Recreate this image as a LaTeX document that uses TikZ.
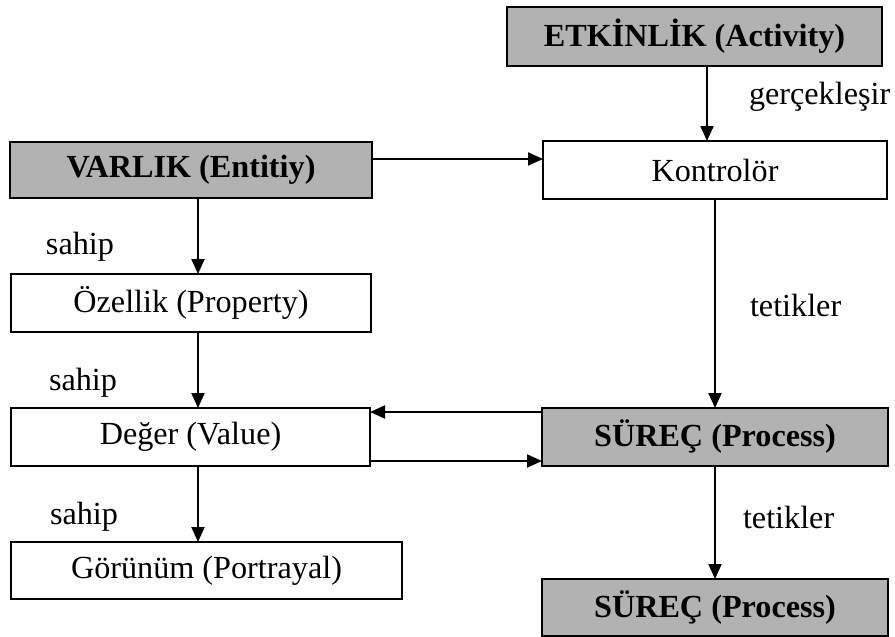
\documentclass[tikz,border=0pt]{standalone}
\usepackage{fontspec}
\setmainfont{Liberation Serif}
\usetikzlibrary{arrows.meta, positioning}
\begin{document}
\begin{tikzpicture}[
		x=0.5pt, y=-0.5pt,
		>={Triangle[length=7.5pt, width=6.5pt]}, line width=1pt,
		box/.style={draw=black, fill=white, inner sep=0pt, outer sep=0pt, minimum height=29pt, font=\fontsize{16.1}{18}\selectfont},
		highlight/.style={fill=black!30, font=\fontsize{16.1}{18}\selectfont\bfseries},
		arrowtext/.style={anchor=west, inner sep=0pt, font=\fontsize{16.1}{18}\selectfont}
		]
		\useasboundingbox (0,0) rectangle (895,637);
		
		% Sol sütun
		\node[box, highlight, minimum width=181pt, minimum height=28pt] (varlik) at (191,170) {VARLIK (Entitiy)};
		\node[box, minimum width=180pt] (ozellik) at (191,303) {Özellik (Property)};
		\node[box, minimum width=179.5pt] (deger) at (190.5,437) {Değer (Value)};
		\node[box, minimum width=195.5pt, minimum height=28.5pt] (gorunum) at (206.5,570.5) {Görünüm (Portrayal)};
		
		% Sağ sütun
		\node[box, highlight, minimum width=187.5pt, minimum height=29.5pt] (etkinlik) at (694.5,36.5) {ETKİNLİK (Activity)};
		\node[box, minimum width=172pt] (kontrolor) at (715,170) {Kontrolör};
		\node[box, highlight, minimum width=173pt] (surec) at (715,437) {SÜREÇ (Process)};
		\node[box, highlight, minimum width=173pt, minimum height=28.5pt] (surec2) at (715,607.5) {SÜREÇ (Process)};
		
		% Etiketler
		\node[arrowtext] (gercek) at (748,97) {gerçekleşir};
		\node[arrowtext] (sahipa) at (45,247) {sahip};
		\node[arrowtext] (sahipb) at (48,383) {sahip};
		\node[arrowtext] (sahipc) at (49,517) {sahip};
		\node[arrowtext] (tetika) at (749,305) {tetikler};
		\node[arrowtext] (tetikb) at (742,517) {tetikler};
		
		% Bağlantılar
		\draw[->] (etkinlik.south -| 707,0) -- (kontrolor.north -| 707,0);
		\draw[->] (varlik.east |- 0,159) -- (kontrolor.west |- 0,159);
		\draw[->] (varlik.south -| 198,0) -- (ozellik.north -| 198,0);
		\draw[->] (ozellik.south -| 198,0) -- (deger.north -| 198,0);
		\draw[->] (deger.south -| 198,0) -- (gorunum.north -| 198,0);
		\draw[->] (kontrolor.south) -- (surec.north);
		\draw[->] (surec.west |- 0,412) -- (deger.east |- 0,412);
		\draw[->] (deger.east |- 0,461) -- (surec.west |- 0,461);
		\draw[->] (surec.south) -- (surec2.north);
		
	\end{tikzpicture}
\end{document}
